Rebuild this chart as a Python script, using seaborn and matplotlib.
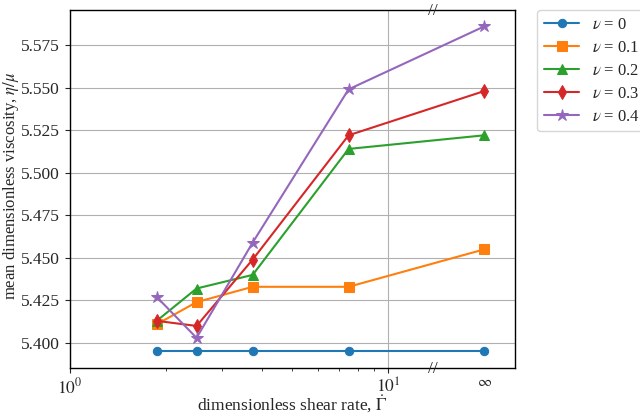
import numpy as np
import pandas as pd
import matplotlib
matplotlib.use("Agg")
import matplotlib.pyplot as plt
import matplotlib.ticker as mticker
import seaborn as sns

# ---- data ----
shear_rates = [1.875, 2.5, 3.75, 7.5, np.inf]
INF_POS = 20.0  # where "infinity" is drawn on the log axis
nu_labels = ["0", "0.1", "0.2", "0.3", "0.4"]
visc_nu0 = [5.395, 5.395, 5.395, 5.395, 5.395]
visc_nu1 = [5.411, 5.424, 5.433, 5.433, 5.455]
visc_nu2 = [5.413, 5.432, 5.440, 5.514, 5.522]
visc_nu3 = [5.413, 5.410, 5.449, 5.522, 5.548]
visc_nu4 = [5.427, 5.403, 5.459, 5.549, 5.586]
series = [visc_nu0, visc_nu1, visc_nu2, visc_nu3, visc_nu4]

rows = []
for lab, vals in zip(nu_labels, series):
    for x, y in zip(shear_rates, vals):
        rows.append({"x": INF_POS if np.isinf(x) else x, "y": y,
                     "nu": rf"$\nu$ = {lab}"})
df = pd.DataFrame(rows)

sns.set_style("ticks")
plt.rcParams["font.family"] = ["Liberation Serif", "DejaVu Serif"]
plt.rcParams["mathtext.fontset"] = "stix"
plt.rcParams["font.size"] = 12.5

fig = plt.figure(figsize=(6.4, 4.17), dpi=100)
ax = fig.add_axes([0.109, 0.1175, 0.696, 0.8585])

palette = ["#1f77b4", "#ff7f0e", "#2ca02c", "#d62728", "#9467bd"]
markers = ["o", "s", "^", "d", "*"]
sizes = [6, 6.5, 7, 7, 9]
hue_order = [rf"$\nu$ = {l}" for l in nu_labels]
for name, col, mk, ms in zip(hue_order, palette, markers, sizes):
    sub = df[df["nu"] == name]
    sns.lineplot(data=sub, x="x", y="y", ax=ax, color=col, marker=mk,
                 markersize=ms, markeredgecolor=col, linewidth=1.5,
                 label=name, estimator=None)

ax.set_xscale("log")
ax.set_xlim(1, 25)
ax.set_ylim(5.3853, 5.5956)
ax.xaxis.set_major_locator(mticker.FixedLocator([1, 10]))
ax.xaxis.set_major_formatter(mticker.FixedFormatter([r"$10^0$", r"$10^1$"]))
ax.xaxis.set_minor_locator(mticker.FixedLocator([2, 3, 4, 5, 6, 7, 8, 9]))
ax.xaxis.set_minor_formatter(mticker.NullFormatter())
ax.yaxis.set_major_locator(mticker.MultipleLocator(0.025))
ax.yaxis.set_major_formatter(mticker.FormatStrFormatter("%.3f"))
ax.grid(True, which="major", color="#b0b0b0", linewidth=0.8)
ax.tick_params(direction="out", labelsize=12.5)
for s in ax.spines.values():
    s.set_linewidth(1.0)
    s.set_color("black")

# infinity label and axis-break marks
ax.text(INF_POS, -0.022, r"$\infty$", transform=ax.get_xaxis_transform(),
        ha="center", va="top", fontsize=11)
for yy in (0.0, 1.0):
    ax.text(13.8, yy - 0.004, "//", transform=ax.get_xaxis_transform(),
            ha="center", va="center", fontsize=12.5, clip_on=False)

ax.set_xlabel(r"dimensionless shear rate, $\dot{\mathit{\Gamma}}$", fontsize=12.5)
ax.set_ylabel(r"mean dimensionless viscosity, $\eta/\mu$", fontsize=12)
ax.xaxis.set_label_coords(0.5, -0.07)
ax.yaxis.set_label_coords(-0.11, 0.51)

ax.legend(loc="upper left", bbox_to_anchor=(1.05, 1.0), fontsize=12,
          handlelength=2.1, labelspacing=0.42, framealpha=0.8,
          borderaxespad=0)

fig.savefig("out.png", dpi=100)
